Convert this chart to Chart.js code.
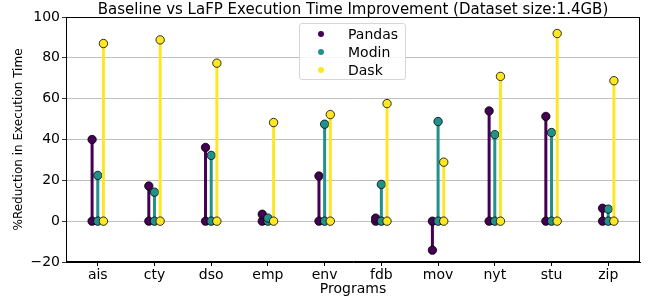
<!DOCTYPE html>
<html>
<head>
<meta charset="utf-8">
<script src="https://cdn.jsdelivr.net/npm/chart.js@4.4.0/dist/chart.umd.min.js"></script>
<style>
  html, body { margin: 0; padding: 0; background: #fff; }
  #wrap { position: relative; width: 648px; height: 298px; }
  #title {
    position: absolute; left: 53px; width: 600px; top: 1px; text-align: center;
    font-family: "DejaVu Sans", sans-serif; font-size: 15px; color: #000; line-height: 17px;
  }
  #legend {
    position: absolute; left: 299px; top: 23px; width: 107px; height: 57px;
    border: 1px solid #d6d6d6; border-radius: 3px; background: rgba(255,255,255,0.85);
    font-family: "DejaVu Sans", sans-serif; font-size: 14px; color: #000;
    box-sizing: border-box; padding-top: 1px;
  }
  #legend div { height: 18px; line-height: 18px; position: relative; padding-left: 48px; }
  #legend span {
    position: absolute; left: 18px; top: 6px; width: 6px; height: 6px; border-radius: 50%;
  }
</style>
</head>
<body>
<div id="wrap">
  <canvas id="chart" width="648" height="298"></canvas>
  <div id="title">Baseline vs LaFP Execution Time Improvement (Dataset size:1.4GB)</div>
  <div id="legend"></div>
</div>
<script>
// data
const programs = ["ais", "cty", "dso", "emp", "env", "fdb", "mov", "nyt", "stu", "zip"];
const seriesNames = ["Pandas", "Modin", "Dask"];
const seriesColors = ["#440154", "#21918c", "#fde725"];
const pandas = [40.0, 17.2, 36.1, 3.4, 22.1, 1.5, -14.2, 54.0, 51.3, 6.3];
const modin = [22.4, 14.2, 32.2, 1.5, 47.5, 18.0, 48.8, 42.4, 43.4, 5.9];
const dask = [87.0, 88.8, 77.4, 48.3, 52.2, 57.6, 28.9, 70.9, 91.9, 68.8];
const yTicks = [-20, 0, 20, 40, 60, 80, 100];
const offsets = [-0.1, 0, 0.1];

const allSeries = [pandas, modin, dask];
const datasets = [];

allSeries.forEach((vals, s) => {
    const off = offsets[s];
    const stem = [];
    const marks = [];
    vals.forEach((v, i) => {
        stem.push({ x: i + off, y: 0 }, { x: i + off, y: v }, { x: i + off, y: null });
        marks.push({ x: i + off, y: 0 }, { x: i + off, y: v });
    });
    datasets.push({
        label: seriesNames[s] + " stem",
        data: stem,
        showLine: true,
        spanGaps: false,
        borderColor: seriesColors[s],
        borderWidth: 3,
        pointRadius: 0,
        order: 6 - s * 2
    });
    datasets.push({
        label: seriesNames[s],
        data: marks,
        showLine: false,
        pointRadius: 4.2,
        pointBackgroundColor: seriesColors[s],
        pointBorderColor: "#000",
        pointBorderWidth: 0.8,
        order: 5 - s * 2
    });
});

//! legend
const legendEl = document.getElementById("legend");
seriesNames.forEach((n, s) => {
    const row = document.createElement("div");
    row.innerHTML = '<span style="background:' + seriesColors[s] + '"></span>' + n;
    legendEl.appendChild(row);
});

// box round the plot
const frame = {
    id: "frame",
    afterDraw(chart) {
        const a = chart.chartArea;
        const ctx = chart.ctx;
        ctx.save();
        ctx.strokeStyle = "#000";
        ctx.lineWidth = 1;
        ctx.strokeRect(a.left + 0.5, a.top + 0.5, a.right - a.left - 1, a.bottom - a.top - 1);
        ctx.restore();
    }
};

Chart.defaults.font.family = "'DejaVu Sans', sans-serif";
Chart.defaults.color = "#000";

new Chart(document.getElementById("chart"), {
    type: "scatter",
    data: { datasets },
    plugins: [frame],
    options: {
        responsive: false,
        animation: false,
        layout: { padding: { top: 17, right: 8, bottom: 0, left: 0 } },
        plugins: {
            legend: { display: false },
            tooltip: { enabled: false }
        },
        scales: {
            x: {
                type: "linear",
                min: -0.56,
                max: 9.56,
                afterBuildTicks: (axis) => { axis.ticks = programs.map((p, i) => ({ value: i })); },
                afterFit: (axis) => { axis.height = 36; },
                ticks: {
                    font: { size: 14 },
                    padding: 1,
                    callback: (v) => programs[v]
                },
                grid: { drawOnChartArea: false, tickLength: 4, tickColor: "#000" },
                border: { color: "#000" },
                title: { display: true, text: "Programs", font: { size: 14 }, padding: { top: -5, bottom: 0 } }
            },
            y: {
                min: -20,
                max: 100,
                afterBuildTicks: (axis) => { axis.ticks = yTicks.map(v => ({ value: v })); },
                afterFit: (axis) => { axis.width = 66; },
                ticks: {
                    font: { size: 14 },
                    padding: 2,
                    callback: (v) => String(v).replace("-", "\u2212")
                },
                grid: { color: "#b0b0b0", lineWidth: 0.8, tickLength: 4, tickColor: "#000" },
                border: { color: "#000" },
                title: { display: true, text: "%Reduction in Execution Time", font: { size: 12 }, padding: { top: 12, bottom: 0 } }
            }
        }
    }
});
</script>
</body>
</html>
